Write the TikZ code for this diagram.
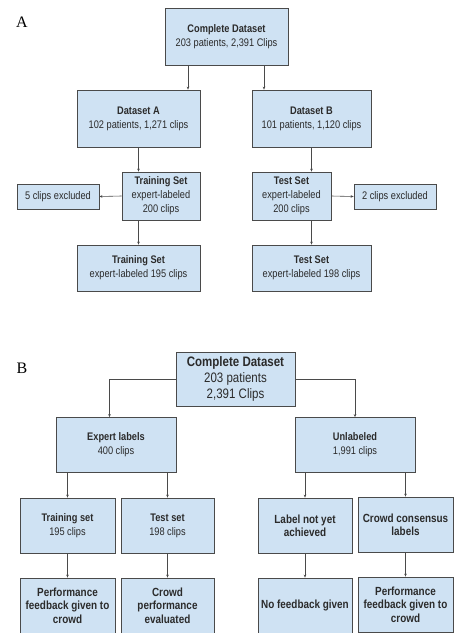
\documentclass[tikz,border=0pt]{standalone}
\usepackage{fontspec}
\setmainfont{Liberation Sans}[FakeStretch=0.84]
\newfontfamily\panelfont{Liberation Serif}
\usetikzlibrary{arrows.meta}
\definecolor{boxfill}{HTML}{CFE2F3}
\definecolor{boxline}{HTML}{4A4A4A}
\definecolor{boxtext}{HTML}{2B2B2B}

\begin{document}
\begin{tikzpicture}[x=1pt,y=-1pt,
    box/.style={draw=boxline,fill=boxfill,line width=0.8pt,inner sep=0pt,align=center,text=boxtext,
        font=\fontsize{11}{14}\selectfont},
    bigbox/.style={box,font=\fontsize{13.7}{16.4}\selectfont},
    lowbox/.style={box,font=\fontsize{11.8}{13.4}\selectfont},
    panel/.style={font=\panelfont\fontsize{16}{18}\selectfont},
    arr/.style={draw=boxline,line width=0.6pt,-{Stealth[length=3pt,width=2.6pt]}}]
    \useasboundingbox (0,0) rectangle (460,633);
    \node[panel] (labA) at (22,22) {A};
    \node[box,minimum width=123pt,minimum height=57pt] (fullA) at (226.5,36.5) {\textbf{Complete Dataset}\\203 patients, 2,391 Clips};
    \node[box,minimum width=123pt,minimum height=57pt] (dsA) at (138.5,118.5) {\textbf{Dataset A}\\102 patients, 1,271 clips};
    \node[box,minimum width=119pt,minimum height=57pt] (dsB) at (311.5,118.5) {\textbf{Dataset B}\\101 patients, 1,120 clips};
    \node[box,minimum width=78pt,minimum height=48pt] (trainA) at (161,196) {\textbf{Training Set}\\expert-labeled\\200 clips};
    \node[box,minimum width=82pt,minimum height=25pt] (exclA) at (58,196.5) {5 clips excluded};
    \node[box,minimum width=123pt,minimum height=46pt] (trainA2) at (138.5,268) {\textbf{Training Set}\\expert-labeled 195 clips};
    \node[box,minimum width=79pt,minimum height=48pt] (testA) at (291.5,196) {\textbf{Test Set}\\expert-labeled\\200 clips};
    \node[box,minimum width=82pt,minimum height=25pt] (exclB) at (395,196.5) {2 clips excluded};
    \node[box,minimum width=119pt,minimum height=46pt] (testA2) at (311.5,268) {\textbf{Test Set}\\expert-labeled 198 clips};

    \draw[arr] ([xshift=-38.5pt]fullA.south) -- ([xshift=-38.5pt]fullA.south |- dsA.north);
    \draw[arr] ([xshift=37.5pt]fullA.south) -- ([xshift=37.5pt]fullA.south |- dsB.north);
    \draw[arr] (dsA.south) -- (dsA.south |- trainA.north);
    \draw[arr] (trainA.west) -- (exclA.east);
    \draw[arr] (trainA.south -| trainA2.north) -- (trainA2.north);
    \draw[arr] (dsB.south) -- (dsB.south |- testA.north);
    \draw[arr] (testA.east) -- (exclB.west);
    \draw[arr] (testA.south -| testA2.north) -- (testA2.north);

    \node[panel] (labB) at (22,368) {B};
    \node[bigbox,minimum width=119pt,minimum height=54pt] (fullB) at (235.5,379) {\textbf{Complete Dataset}\\203 patients\\2,391 Clips};
    \node[box,minimum width=120pt,minimum height=55pt] (expert) at (116,445) {\textbf{Expert labels}\\400 clips};
    \node[box,minimum width=120pt,minimum height=55pt] (unlab) at (355,445) {\textbf{Unlabeled}\\1,991 clips};
    \node[box,minimum width=95pt,minimum height=55pt] (trainB) at (67.5,525.5) {\textbf{Training set}\\195 clips};
    \node[box,minimum width=93pt,minimum height=55pt] (testB) at (167.5,525.5) {\textbf{Test set}\\198 clips};
    \node[lowbox,minimum width=94pt,minimum height=55pt] (notyet) at (305,525.5) {\textbf{Label not yet}\\\textbf{achieved}};
    \node[lowbox,minimum width=95pt,minimum height=55pt] (consensus) at (405.5,524.5) {\textbf{Crowd consensus}\\\textbf{labels}};
    \node[lowbox,minimum width=95pt,minimum height=55pt] (fbTrain) at (67.5,605.5) {\textbf{Performance}\\\textbf{feedback given to}\\\textbf{crowd}};
    \node[lowbox,minimum width=93pt,minimum height=55pt] (evalTest) at (167.5,605.5) {\textbf{Crowd}\\\textbf{performance}\\\textbf{evaluated}};
    \node[lowbox,minimum width=94pt,minimum height=55pt] (nofb) at (305,605.5) {\textbf{No feedback given}};
    \node[lowbox,minimum width=95pt,minimum height=55pt] (fbCrowd) at (405.5,604.5) {\textbf{Performance}\\\textbf{feedback given to}\\\textbf{crowd}};

    \draw[arr] (fullB.west) -| ([xshift=-6.5pt]expert.north);
    \draw[arr] (fullB.east) -| (unlab.north);
    \draw[arr] (trainB.north |- expert.south) -- (trainB.north);
    \draw[arr] (testB.north |- expert.south) -- (testB.north);
    \draw[arr] (notyet.north |- unlab.south) -- (notyet.north);
    \draw[arr] (consensus.north |- unlab.south) -- (consensus.north);
    \draw[arr] (trainB.south) -- (fbTrain.north);
    \draw[arr] (testB.south) -- (evalTest.north);
    \draw[arr] (notyet.south) -- (nofb.north);
    \draw[arr] (consensus.south) -- (fbCrowd.north);
\end{tikzpicture}
\end{document}
